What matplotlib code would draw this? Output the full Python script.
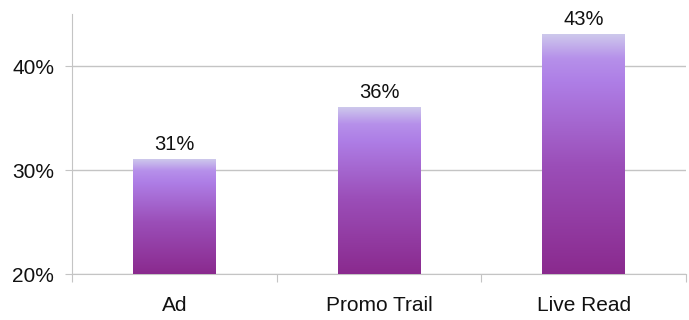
import matplotlib.pyplot as plt
import numpy as np
from matplotlib.colors import LinearSegmentedColormap

categories = ['Ad', 'Promo Trail', 'Live Read']
values = [31, 36, 43]
y_ticks = [20, 30, 40]
y_tick_labels = ['20%', '30%', '40%']

plt.rcParams['font.family'] = ['Liberation Sans', 'DejaVu Sans']

fig = plt.figure(figsize=(6.89, 3.2), dpi=100)
ax = fig.add_axes([0.105, 0.14375, 0.8906, 0.8125])

axis_color = '#c4c4c4'
text_color = '#111111'
ymin, ymax = 20, 45
bar_width = 0.405

# gradient from dark bottom to light top
grad = LinearSegmentedColormap.from_list('bar', [
    (0.0, '#8a2a8e'),
    (0.45, '#9b4eb8'),
    (0.8, '#ae7ee6'),
    (0.9, '#b690ea'),
    (1.0, '#cdc8ec'),
])

x = np.arange(len(categories))
for xi, v in zip(x, values):
    g = np.linspace(0, 1, 256).reshape(-1, 1)
    ax.imshow(g, cmap=grad, origin='lower', aspect='auto',
              extent=(xi - bar_width / 2, xi + bar_width / 2, ymin, v),
              zorder=3, interpolation='bilinear')
    ax.text(xi, v + 0.55, f'{v}%', ha='center', va='bottom', fontsize=14.5,
            color=text_color)

ax.set_xlim(-0.5, len(categories) - 0.5)
ax.set_ylim(ymin, ymax)

ax.set_yticks(y_ticks)
ax.set_yticklabels(y_tick_labels, fontsize=15, color=text_color)
ax.grid(axis='y', color=axis_color, linewidth=1.0, zorder=0)
ax.tick_params(axis='y', length=5, color=axis_color, pad=8)

# category boundaries carry the tick marks, labels sit in the middle
ax.set_xticks(np.arange(len(categories) + 1) - 0.5)
ax.set_xticklabels([])
ax.set_xticks(x, minor=True)
ax.set_xticklabels(categories, minor=True, fontsize=15, color=text_color)
ax.tick_params(axis='x', which='major', length=6, color=axis_color)
ax.tick_params(axis='x', which='minor', length=0, pad=16)

for side in ['top', 'right']:
    ax.spines[side].set_visible(False)
ax.spines['left'].set_color(axis_color)
ax.spines['bottom'].set_color(axis_color)
ax.set_axisbelow(True)

fig.savefig('out.png', dpi=100)
